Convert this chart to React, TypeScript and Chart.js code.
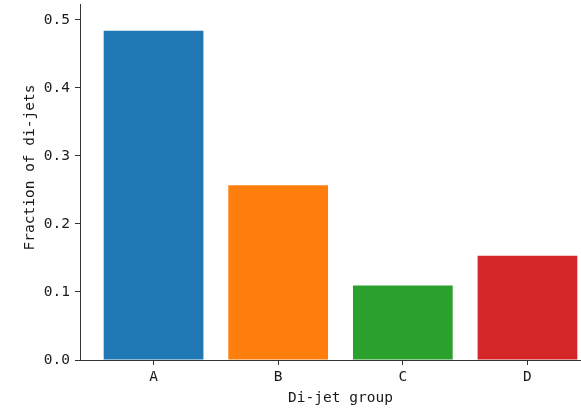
import React, { useEffect, useRef } from "react";
import { Chart, registerables } from "chart.js";

Chart.register(...registerables);

const categories = ["A", "B", "C", "D"];
const fractions = [0.4843, 0.2571, 0.1096, 0.1532];
const barColors = ["#1f77b4", "#ff7f0e", "#2ca02c", "#d62728"];
const yTicks = [0.0, 0.1, 0.2, 0.3, 0.4, 0.5];
const xTitle = "Di-jet group";
const yTitle = "Fraction of di-jets";

const FONT = "'DejaVu Sans Mono', monospace";
const FS = 14.5;
const TEXT = "#1a1a1a";
const AXIS = "#333333";

export default function App() {
  const ref = useRef<HTMLCanvasElement | null>(null);

  useEffect(() => {
    if (!ref.current) return;
    const yTitlePlugin = {
      id: "yTitlePlugin",
      afterDraw(chart: any) {
        const ctx = chart.ctx;
        ctx.save();
        ctx.translate(33.5, 167.5);
        ctx.rotate(-Math.PI / 2);
        ctx.font = `${FS}px ${FONT}`;
        ctx.fillStyle = TEXT;
        ctx.textAlign = "center";
        ctx.textBaseline = "alphabetic";
        ctx.fillText(yTitle, 0, 0);
        ctx.restore();
      },
    };
    const chart = new Chart(ref.current, {
      type: "bar",
      data: {
        datasets: [
          {
            data: categories.map((_, i) => ({ x: i, y: fractions[i] })),
            backgroundColor: barColors,
            borderWidth: 0,
            barPercentage: 0.8,
            categoryPercentage: 1,
          },
        ],
      },
      options: {
        animation: false,
        responsive: false,
        devicePixelRatio: 1,
        layout: { padding: { left: 0, top: 4, right: 0, bottom: 0 } },
        plugins: { legend: { display: false }, tooltip: { enabled: false } },
        scales: {
          x: {
            type: "linear",
            min: -0.59,
            max: 3.59,
            offset: false,
            grid: {
              drawOnChartArea: false,
              drawTicks: true,
              tickLength: 5,
              tickColor: AXIS,
              offset: false,
            },
            border: { display: true, color: AXIS, width: 1 },
            afterBuildTicks: (scale: any) => {
              scale.ticks = categories.map((_, i) => ({ value: i }));
            },
            afterFit: (scale: any) => {
              scale.height = 50;
              scale.paddingLeft = 0;
              scale.paddingRight = 0;
            },
            ticks: {
              autoSkip: false,
              maxRotation: 0,
              padding: 4,
              color: TEXT,
              font: { family: FONT, size: FS },
              callback: (v: any) => categories[Math.round(Number(v))] ?? "",
            },
            title: {
              display: true,
              text: xTitle,
              color: TEXT,
              font: { family: FONT, size: FS },
              padding: { top: 0, bottom: 3 },
            },
          },
          y: {
            type: "linear",
            min: 0,
            max: 0.5235,
            grid: {
              drawOnChartArea: false,
              drawTicks: true,
              tickLength: 5,
              tickColor: AXIS,
            },
            border: { display: true, color: AXIS, width: 1 },
            afterBuildTicks: (scale: any) => {
              scale.ticks = yTicks.map((v) => ({ value: v }));
            },
            afterFit: (scale: any) => {
              scale.width = 80;
              scale.paddingTop = 0;
              scale.paddingBottom = 0;
            },
            ticks: {
              padding: 5,
              color: TEXT,
              font: { family: FONT, size: FS },
              callback: (v: any) => Number(v).toFixed(1),
            },
            title: { display: false },
          },
        },
      },
      plugins: [yTitlePlugin],
    } as any);
    return () => chart.destroy();
  }, []);

  return (
    <div
      style={{
        position: "absolute",
        left: 0,
        top: 0,
        width: 581,
        height: 410,
        overflow: "hidden",
        background: "#ffffff",
      }}
    >
      <canvas ref={ref} width={601} height={410} />
    </div>
  );
}
